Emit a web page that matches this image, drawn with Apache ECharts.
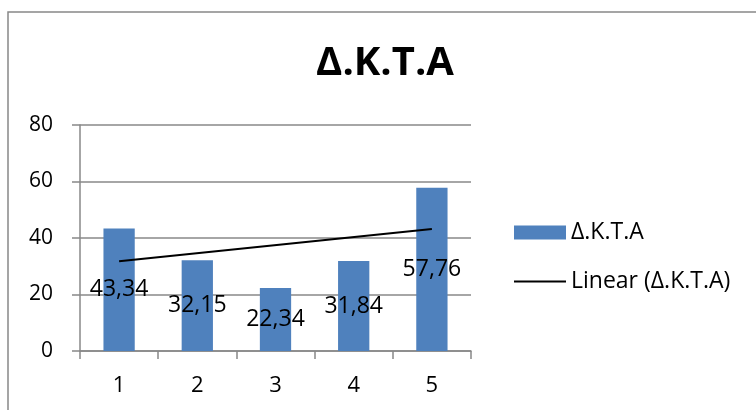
<!DOCTYPE html>
<html>
<head>
<meta charset="utf-8">
<script src="https://cdn.jsdelivr.net/npm/echarts@6/dist/echarts.min.js"></script>
<style>
html,body{margin:0;padding:0;background:#fff;}
#c{width:756px;height:410px;}
</style>
</head>
<body>
<div id="c"></div>
<script>
// Data
const titleText = 'Δ.Κ.Τ.Α';
const categories = ['1', '2', '3', '4', '5'];
const barValues = [43.34, 32.15, 22.34, 31.84, 57.76];
const seriesName = 'Δ.Κ.Τ.Α';
const trendName = 'Linear (Δ.Κ.Τ.Α)';
// Trendline endpoints (category, value)
const trendPoints = [['1', 31.8], ['5', 43.2]];
const yTicks = [0, 20, 40, 60, 80];

const FONT = '"Open Sans", sans-serif';
const GRAY = '#888888';

const chart = echarts.init(document.getElementById('c'), null, {renderer: 'canvas'});
chart.setOption({
  backgroundColor: '#ffffff',
  animation: false,
  textStyle: {fontFamily: FONT},
  title: {
    text: titleText,
    left: 385,
    top: 64,
    textAlign: 'center',
    textVerticalAlign: 'middle',
    padding: 0,
    textStyle: {fontFamily: FONT, fontSize: 40, fontWeight: 'bold', color: '#000'}
  },
  graphic: [{
    type: 'rect',
    shape: {x: 8, y: 12, width: 780, height: 430},
    style: {fill: 'none', stroke: GRAY, lineWidth: 1.5},
    silent: true,
    z: -1
  }],
  legend: {
    orient: 'vertical',
    left: 513,
    top: 221,
    padding: 0,
    itemGap: 26,
    itemWidth: 52,
    itemHeight: 14,
    textStyle: {fontFamily: FONT, fontSize: 23, color: '#000'},
    data: [
      {name: seriesName, icon: 'rect'},
      {name: trendName, itemStyle: {opacity: 0}}
    ]
  },
  grid: {left: 80, top: 125, width: 391, height: 226, containLabel: false},
  xAxis: {
    type: 'category',
    data: categories,
    boundaryGap: true,
    axisLine: {show: true, lineStyle: {color: GRAY, width: 1.5}},
    axisTick: {show: true, length: 8, alignWithLabel: false, lineStyle: {color: GRAY, width: 1.5}},
    axisLabel: {fontFamily: FONT, fontSize: 22, color: '#000', margin: 24},
    splitLine: {show: false}
  },
  yAxis: {
    type: 'value',
    min: yTicks[0],
    max: yTicks[yTicks.length - 1],
    interval: yTicks[1] - yTicks[0],
    axisLine: {show: true, lineStyle: {color: GRAY, width: 1.5}},
    axisTick: {show: true, length: 8, lineStyle: {color: GRAY, width: 1.5}},
    axisLabel: {fontFamily: FONT, fontSize: 21, color: '#000', margin: 27},
    splitLine: {show: true, lineStyle: {color: GRAY, width: 1.5}}
  },
  series: [
    {
      name: seriesName,
      type: 'bar',
      data: barValues,
      barWidth: '40%',
      itemStyle: {color: '#4F81BD'},
      label: {
        show: true,
        position: 'inside',
        color: '#000',
        fontFamily: FONT,
        fontSize: 23,
        formatter: p => p.value.toFixed(2).replace('.', ',')
      },
      z: 2
    },
    {
      name: trendName,
      type: 'line',
      data: trendPoints,
      symbol: 'none',
      lineStyle: {color: '#000', width: 2},
      itemStyle: {color: '#000'},
      z: 3
    }
  ]
});
</script>
</body>
</html>
